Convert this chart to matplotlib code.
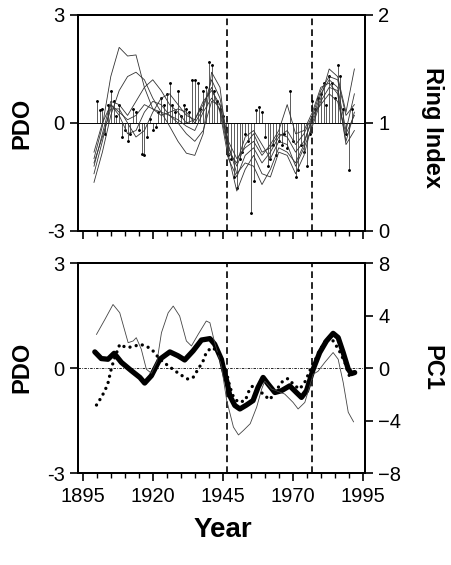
import matplotlib
matplotlib.use("Agg")
import matplotlib.pyplot as plt
from matplotlib.ticker import MultipleLocator
import numpy as np

plt.rcParams['font.family'] = ['Liberation Sans', 'DejaVu Sans']

# ---- top panel: annual PDO (stems) and ring-index chronologies ----
pdo_years = list(range(1900, 1992))
pdo_annual = [0.6, 0.35, 0.4, -0.3, 0.5, 0.9, 0.6, 0.2, 0.5, -0.4,
              -0.2, -0.5, -0.3, 0.4, 0.3, -0.2, -0.85, -0.9, -0.4, 0.1,
              -0.2, -0.1, 0.3, 0.7, 0.5, 0.8, 1.1, 0.5, 0.3, 0.9,
              0.2, 0.5, 0.4, 0.3, 1.2, 1.2, 1.1, 0.4, 0.9, 1.0,
              1.7, 1.6, 0.9, 0.6, 0.4, 0.2, -0.4, -0.9, -1.0, -1.5,
              -1.8, -1.0, -0.8, -0.3, -0.5, -2.5, -1.6, 0.35, 0.45, 0.3,
              -0.4, -1.2, -1.0, -0.6, -0.9, -0.5, -0.6, -0.3, -0.7, 0.9,
              -0.5, -1.5, -1.3, -0.6, -0.8, -1.2, -0.3, 0.6, 0.4, 0.7,
              0.8, 1.1, 0.5, 1.3, 1.1, 0.7, 1.6, 1.3, 0.4, -0.3,
              -1.3, 0.4]

ring_years = list(range(1899, 1993, 3))
ring_1 = [0.67, 0.97, 1.43, 1.70, 1.62, 1.63, 1.33, 1.13, 1.10, 1.07, 1.00, 0.90, 0.83, 0.93, 1.20, 1.17,
          0.80, 0.53, 0.63, 0.60, 0.43, 0.57, 0.77, 0.73, 0.63, 0.80, 1.07, 1.30, 1.43, 1.40, 1.07, 1.17]
ring_2 = [0.45, 0.73, 1.07, 1.30, 1.43, 1.47, 1.40, 1.23, 1.10, 0.97, 0.83, 0.72, 0.70, 0.90, 1.47, 1.33,
          0.70, 0.37, 0.57, 0.70, 0.53, 0.50, 0.73, 0.70, 0.53, 0.70, 1.00, 1.23, 1.50, 1.43, 1.10, 1.50]
ring_3 = [0.60, 0.90, 1.20, 1.17, 1.07, 1.20, 1.33, 1.40, 1.30, 1.17, 1.10, 1.00, 1.03, 1.20, 1.30, 1.17,
          0.77, 0.60, 0.80, 0.90, 0.73, 0.77, 0.90, 0.87, 0.73, 0.83, 1.03, 1.27, 1.40, 1.33, 0.93, 1.27]
ring_4 = [0.73, 1.00, 1.17, 1.10, 1.03, 1.07, 1.17, 1.13, 1.07, 1.10, 1.13, 1.10, 1.00, 1.13, 1.40, 1.23,
          0.83, 0.67, 0.77, 0.83, 0.70, 0.80, 0.93, 1.17, 0.90, 0.93, 1.10, 1.33, 1.37, 1.27, 0.83, 1.10]
ring_5 = [0.53, 0.83, 1.17, 1.07, 0.90, 0.93, 1.10, 1.20, 1.17, 1.07, 1.03, 0.97, 0.93, 1.10, 1.23, 1.13,
          0.73, 0.63, 0.87, 0.93, 0.80, 0.67, 0.83, 0.80, 0.60, 0.77, 0.97, 1.20, 1.33, 1.30, 0.80, 0.93]
ring_6 = [0.63, 0.87, 1.13, 1.13, 1.00, 0.87, 0.93, 1.10, 1.23, 1.27, 1.17, 1.07, 1.03, 1.17, 1.33, 1.10,
          0.67, 0.50, 0.70, 0.77, 0.63, 0.73, 0.87, 0.93, 0.80, 0.90, 1.07, 1.17, 1.27, 1.20, 0.90, 1.07]

# ---- bottom panel: smoothed PDO (thick) and PC1 series ----
pdo_s_years = [1899.3, 1901.6, 1904.0, 1906.2, 1908.8, 1912.4, 1915.4, 1917.1, 1919.5, 1922.5,
               1926.1, 1929.0, 1931.4, 1934.4, 1937.4, 1940.4, 1942.1, 1944.5, 1945.2, 1946.5,
               1947.5, 1949.3, 1951.1, 1953.4, 1955.8, 1957.6, 1959.4, 1961.2, 1963.6, 1965.9,
               1968.9, 1971.3, 1973.1, 1974.9, 1977.3, 1979.6, 1982.0, 1984.4, 1986.2, 1988.0,
               1989.8, 1990.9, 1992.1]
pdo_smooth = [0.46, 0.27, 0.25, 0.42, 0.16, -0.08, -0.27, -0.43, -0.22, 0.25,
              0.46, 0.35, 0.23, 0.49, 0.80, 0.84, 0.68, 0.25, 0.0, -0.4,
              -0.79, -1.07, -1.17, -1.06, -0.93, -0.55, -0.27, -0.46, -0.70, -0.65,
              -0.51, -0.70, -0.84, -0.65, -0.03, 0.44, 0.77, 0.99, 0.87, 0.44,
              -0.03, -0.16, -0.13]

pc_thin_years = [1899.9, 1902.9, 1905.8, 1908.2, 1911.2, 1913.0, 1914.1, 1915.9, 1917.7, 1919.5,
                 1921.5, 1923.1, 1925.5, 1927.3, 1929.6, 1932.0, 1933.8, 1936.2, 1939.1, 1940.4,
                 1942.1, 1944.5, 1946.4, 1948.8, 1950.6, 1952.4, 1954.8, 1957.1, 1958.9, 1960.0,
                 1962.4, 1967.1, 1970.1, 1971.9, 1974.3, 1977.3, 1979.0, 1981.4, 1984.4, 1986.2,
                 1988.0, 1989.8, 1991.7]
pc_thin = [2.56, 3.70, 4.84, 4.21, 1.93, 2.06, 2.31, 1.43, -0.09, -0.4,
           0.5, 2.69, 4.21, 4.72, 3.96, 2.06, 1.68, 2.56, 3.58, 3.45,
           1.93, 0.17, -2.47, -4.5, -5.1, -4.75, -4.24, -2.98, -1.6, -1.0,
           -1.6, -1.98, -2.62, -3.12, -2.62, -0.47, -0.25, 0.42, 1.18, 0.67,
           -1.1, -3.37, -4.1]

pc_dot_years = [1899.9, 1901.6, 1902.9, 1904.0, 1905.2, 1906.2, 1908.2, 1910.6, 1913.0, 1915.4,
                1917.7, 1920.1, 1922.5, 1925.5, 1927.9, 1930.2, 1932.6, 1934.4, 1936.2, 1938.0,
                1939.1, 1940.9, 1942.7, 1943.9, 1945.2, 1946.5, 1947.5, 1948.8, 1950.5, 1953.0,
                1954.6, 1955.8, 1958.0, 1960.0, 1961.8, 1964.8, 1966.5, 1968.3, 1970.7, 1972.5,
                1974.5, 1976.5, 1978.0, 1979.2, 1981.4, 1983.3, 1985.0, 1986.8, 1988.6, 1990.2]
pc_dot = [-2.82, -2.24, -1.73, -1.15, -0.04, 0.67, 1.80, 1.55, 1.63, 1.80,
          1.68, 1.30, 0.67, 0.17, -0.21, -0.55, -0.85, -0.72, -0.09, 0.55,
          1.18, 1.55, 1.38, 0.92, 0.2, -0.5, -1.4, -2.2, -2.6, -2.5,
          -1.6, -1.35, -1.7, -2.11, -2.41, -1.48, -0.97, -0.8, -1.35, -1.6,
          -1.0, 0.0, 0.6, 1.18, 1.99, 2.4, 1.88, 1.23, 0.42, -0.6]

regime_shifts = [1946.5, 1977]
x_ticks = [1895, 1920, 1945, 1970, 1995]

fig = plt.figure(figsize=(4.52, 5.65), dpi=100)
ax1 = fig.add_axes([0.1726, 0.5912, 0.635, 0.3823])
ax2 = fig.add_axes([0.1726, 0.1628, 0.635, 0.3717])

def style_axes(ax, ax_r):
    ax.set_xlim(1893.3, 1995.8)
    ax.set_xticks(x_ticks)
    ax.xaxis.set_minor_locator(MultipleLocator(5))
    for a in (ax, ax_r):
        for s in a.spines.values():
            s.set_linewidth(1.4)
        a.tick_params(which='major', direction='out', length=6, width=1.2, labelsize=14.5)
        a.tick_params(which='minor', direction='out', length=3.5, width=1.0)
    ax.set_ylim(-3, 3)
    ax.set_yticks([-3, 0, 3])
    ax.set_yticklabels(['-3', '0', '3'])
    for x in regime_shifts:
        ax.axvline(x, color='black', lw=1.2, ls=(0, (4, 2.5)), zorder=5)

# top panel
ax1r = ax1.twinx()
ax1.axhline(0, color='black', lw=0.7, zorder=1)
ax1.vlines(pdo_years, 0, pdo_annual, color='black', lw=0.45, zorder=2)
ax1.plot(pdo_years, pdo_annual, ls='none', marker='.', ms=2.2, color='black', zorder=2)
for r in [ring_1, ring_2, ring_3, ring_4, ring_5, ring_6]:
    ax1r.plot(ring_years, r, color='#333333', lw=0.6)
ax1r.set_ylim(0, 2)
ax1r.set_yticks([0, 1, 2])
style_axes(ax1, ax1r)
ax1.tick_params(axis='x', labelbottom=False)

# bottom panel
ax2r = ax2.twinx()
ax2.axhline(0, color='black', lw=0.6, ls=(0, (3, 1.5, 1, 1.5)), zorder=1)
ax2r.plot(pc_thin_years, pc_thin, color='#444444', lw=0.6)
ax2r.plot(pc_dot_years, pc_dot, color='black', lw=2.4, ls=(0, (0.01, 1.9)),
          dash_capstyle='round')
ax2.plot(pdo_s_years, pdo_smooth, color='black', lw=3.8, solid_capstyle='round', zorder=4)
ax2r.set_ylim(-8, 8)
ax2r.set_yticks([-8, -4, 0, 4, 8])
style_axes(ax2, ax2r)
ax2.tick_params(axis='x', pad=4)

fig.text(0.049, 0.782, 'PDO', rotation=90, ha='center', va='center', fontsize=17, fontweight='bold')
fig.text(0.049, 0.349, 'PDO', rotation=90, ha='center', va='center', fontsize=17, fontweight='bold')
fig.text(0.956, 0.775, 'Ring Index', rotation=270, ha='center', va='center', fontsize=17, fontweight='bold')
fig.text(0.956, 0.349, 'PC1', rotation=270, ha='center', va='center', fontsize=17, fontweight='bold')
fig.text(0.494, 0.062, 'Year', ha='center', va='center', fontsize=20, fontweight='bold')

fig.savefig('out.png', dpi=100)
